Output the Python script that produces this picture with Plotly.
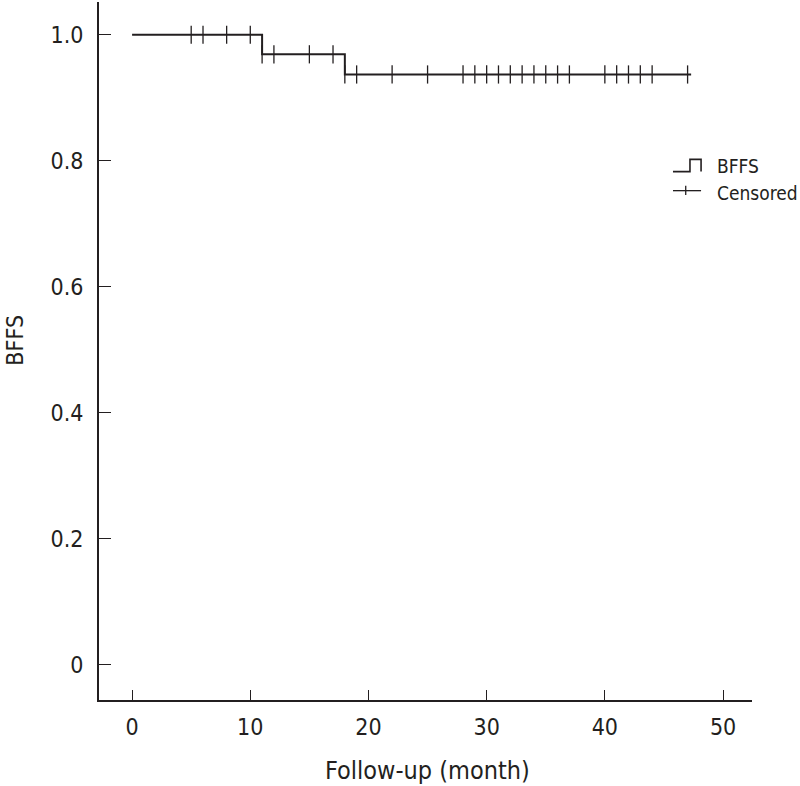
import plotly.graph_objects as go

# Kaplan-Meier steps
event_times = [0, 11, 18]
survival = [1.0, 0.969, 0.937]
last_followup = 47.3

censored_times = [5, 6, 8, 10, 11, 12, 15, 17, 18, 19, 22, 25, 28, 29, 30, 31,
                  32, 33, 34, 35, 36, 37, 40, 41, 42, 43, 44, 47]

x_ticks = [0, 10, 20, 30, 40, 50]
y_ticks = [0, 0.2, 0.4, 0.6, 0.8, 1.0]
y_ticktext = ["0", "0.2", "0.4", "0.6", "0.8", "1.0"]

ink = "#231f20"
font_family = "DejaVu Sans Condensed"


def surv_at(t):
    s = survival[0]
    for et, sv in zip(event_times, survival):
        if t >= et:
            s = sv
    return s


step_x = event_times + [last_followup]
step_y = survival + [survival[-1]]
cens_y = [surv_at(t) for t in censored_times]

fig = go.Figure()

fig.add_trace(go.Scatter(
    x=step_x, y=step_y, mode="lines", line_shape="hv",
    line=dict(color=ink, width=2), showlegend=False, hoverinfo="skip",
))

fig.add_trace(go.Scatter(
    x=censored_times, y=cens_y, mode="markers",
    marker=dict(symbol="line-ns", size=13, line=dict(color=ink, width=1.3)),
    showlegend=False,
))

# ---------------------------- hand-drawn legend ---------------------------- #
fig.add_shape(type="path", xref="paper", yref="paper",
              path="M 0.879 0.757 L 0.905 0.757 L 0.905 0.7746 L 0.922 0.7746 L 0.922 0.757",
              line=dict(color=ink, width=1.6))
fig.add_shape(type="line", xref="paper", yref="paper",
              x0=0.879, x1=0.922, y0=0.7297, y1=0.7297, line=dict(color=ink, width=1.3))
fig.add_shape(type="line", xref="paper", yref="paper",
              x0=0.8985, x1=0.8985, y0=0.7235, y1=0.7368, line=dict(color=ink, width=1.3))
fig.add_annotation(text="BFFS", xref="paper", yref="paper", x=0.943, y=0.765,
                   xanchor="left", yanchor="middle", showarrow=False,
                   font=dict(size=19, color=ink, family=font_family))
fig.add_annotation(text="Censored", xref="paper", yref="paper", x=0.943, y=0.727,
                   xanchor="left", yanchor="middle", showarrow=False,
                   font=dict(size=19, color=ink, family=font_family))

# axis titles placed by hand
fig.add_annotation(text="Follow-up (month)", xref="paper", yref="paper",
                   x=0.503, y=-0.1003, xanchor="center", yanchor="middle",
                   showarrow=False, font=dict(size=25, color=ink, family=font_family))
fig.add_annotation(text="BFFS", xref="paper", yref="paper", textangle=-90,
                   x=-0.130, y=0.515, xanchor="center", yanchor="middle",
                   showarrow=False, font=dict(size=23, color=ink, family=font_family))

fig.update_layout(
    width=800, height=786,
    margin=dict(l=99, r=48, t=2, b=86),
    paper_bgcolor="white", plot_bgcolor="white",
    font=dict(family=font_family, size=23, color=ink),
    showlegend=False,
)

fig.update_xaxes(
    range=[-2.8, 52.45], tickvals=x_ticks, ticks="inside", ticklen=10,
    tickcolor=ink, tickwidth=1, showline=True, linecolor=ink, linewidth=2,
    showgrid=False, zeroline=False, ticklabelstandoff=5, automargin=False,
)
fig.update_yaxes(
    range=[-0.0556, 1.052], tickvals=y_ticks, ticktext=y_ticktext,
    ticks="inside", ticklen=12, tickcolor=ink, tickwidth=1,
    showline=True, linecolor=ink, linewidth=2, showgrid=False, zeroline=False,
    ticklabelstandoff=9, automargin=False,
)

# drop the page's default body margin so the figure sits at the top-left corner
fig.write_html("out.html", config={"displayModeBar": False},
               post_script="document.body.style.margin='0';")
